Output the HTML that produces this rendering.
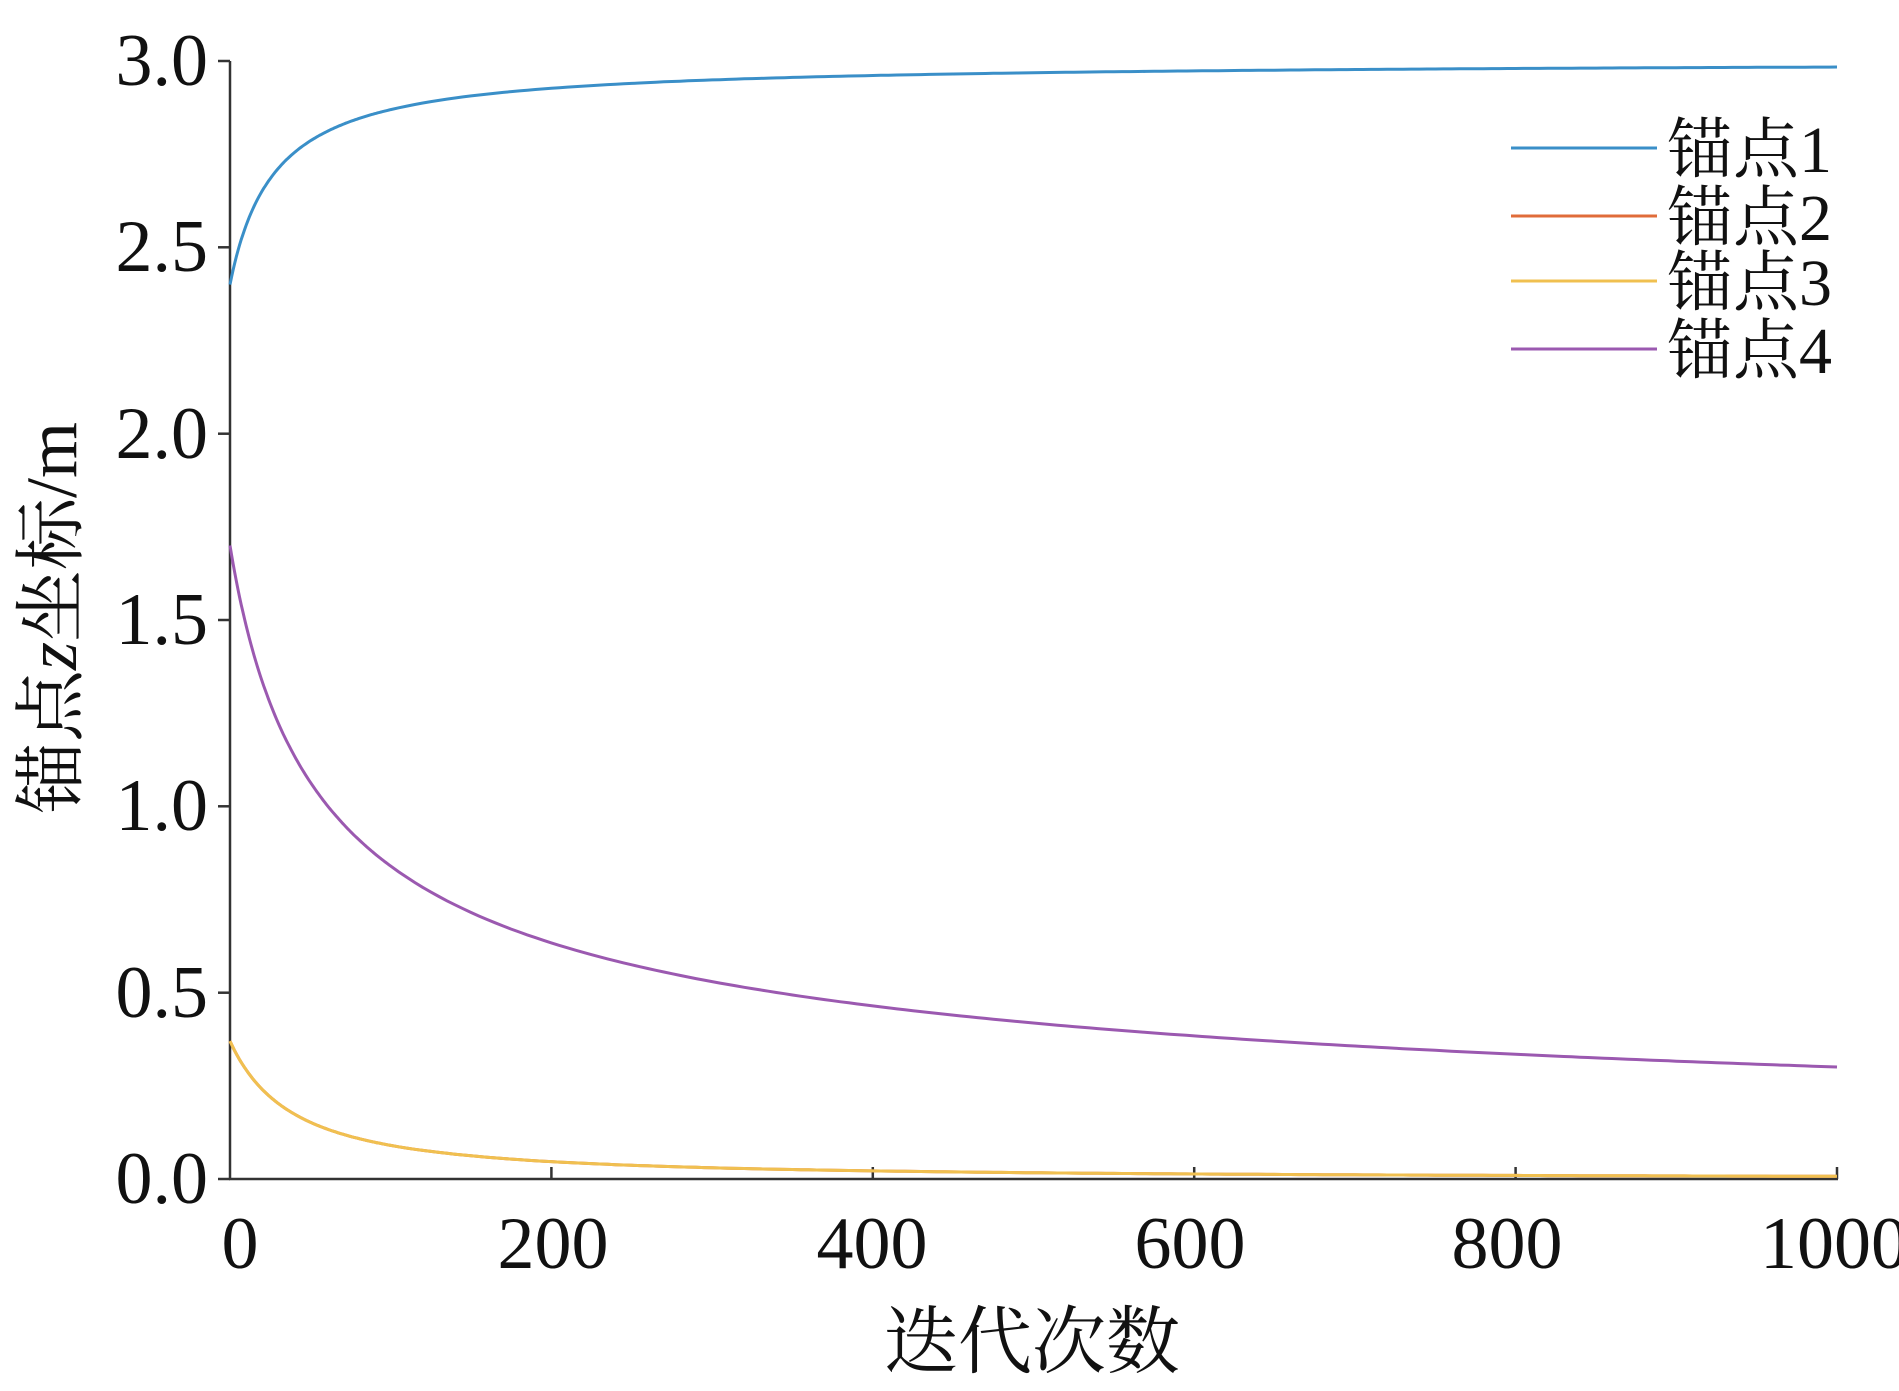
<!DOCTYPE html>
<html><head><meta charset="utf-8"><style>
html,body{margin:0;padding:0;background:#fff;}
svg{display:block;}
text{font-family:"Liberation Serif","Times New Roman","Noto Serif CJK SC",serif;fill:#111;}
.cjk{font-family:"Liberation Serif","Noto Serif CJK SC","Noto Sans CJK SC",serif;}
</style></head><body>
<svg id="s" width="1899" height="1391" viewBox="0 0 1899 1391" xmlns="http://www.w3.org/2000/svg">
<g stroke="#333" stroke-width="2.5" fill="none">
<line x1="230" y1="61" x2="230" y2="1180"/>
<line x1="229" y1="1179" x2="1838" y2="1179"/>
<line x1="218" y1="61" x2="230" y2="61"/>
<line x1="218" y1="247.3" x2="230" y2="247.3"/>
<line x1="218" y1="433.7" x2="230" y2="433.7"/>
<line x1="218" y1="620" x2="230" y2="620"/>
<line x1="218" y1="806.3" x2="230" y2="806.3"/>
<line x1="218" y1="992.7" x2="230" y2="992.7"/>
<line x1="218" y1="1179" x2="230" y2="1179"/>
<line x1="551.4" y1="1167" x2="551.4" y2="1179"/>
<line x1="872.8" y1="1167" x2="872.8" y2="1179"/>
<line x1="1194.2" y1="1167" x2="1194.2" y2="1179"/>
<line x1="1515.6" y1="1167" x2="1515.6" y2="1179"/>
<line x1="1837" y1="1167" x2="1837" y2="1179"/>
</g>
<g font-size="74" text-anchor="end">
<text x="208" y="85">3.0</text>
<text x="208" y="271">2.5</text>
<text x="208" y="458">2.0</text>
<text x="208" y="644">1.5</text>
<text x="208" y="830">1.0</text>
<text x="208" y="1017">0.5</text>
<text x="208" y="1203">0.0</text>
</g>
<g font-size="74" text-anchor="middle">
<text x="240" y="1268">0</text>
<text x="553" y="1268">200</text>
<text x="872" y="1268">400</text>
<text x="1190" y="1268">600</text>
<text x="1507" y="1268">800</text>
<text x="1834" y="1268">1000</text>
</g>
<text class="cjk" x="1032" y="1367" font-size="74" text-anchor="middle">迭代次数</text>
<text class="cjk" transform="translate(76,618) rotate(-90)" font-size="72" text-anchor="middle">锚点<tspan font-style="italic" font-family="Liberation Serif">z</tspan>坐标/m</text>
<g id="curves" fill="none" stroke-width="3"></g>
<g stroke-width="3">
<line x1="1511" y1="148" x2="1657" y2="148" stroke="#3a8fc8"/>
<line x1="1511" y1="216" x2="1657" y2="216" stroke="#e06c3a"/>
<line x1="1511" y1="281" x2="1657" y2="281" stroke="#f0c050"/>
<line x1="1511" y1="349" x2="1657" y2="349" stroke="#9b59b0"/>
</g>
<g font-size="66" class="cjk">
<text x="1667" y="172">锚点1</text>
<text x="1667" y="240">锚点2</text>
<text x="1667" y="305">锚点3</text>
<text x="1667" y="373">锚点4</text>
</g>
</svg>
<script>
var g=document.getElementById('curves');
function X(t){return 230+t*1.607;}
function Y(v){return 1179-v*372.67;}
function mk(f,c){var d='';for(var t=0;t<=1000;t+=(t<100?1:5)){d+=(t?'L':'M')+X(t).toFixed(1)+' '+Y(f(t)).toFixed(1);}
var p=document.createElementNS('http://www.w3.org/2000/svg','path');p.setAttribute('d',d);p.setAttribute('stroke',c);g.appendChild(p);}
mk(function(t){return 0.37/Math.pow(1+0.0196*t,1.3);},'#e06c3a');
mk(function(t){return 0.37/Math.pow(1+0.0196*t,1.3);},'#f0c050');
mk(function(t){return 1.7/Math.pow(1+0.031*t,0.5);},'#9b59b0');
mk(function(t){return 3-0.6/(1+0.036*t);},'#3a8fc8');
</script>
</body></html>
